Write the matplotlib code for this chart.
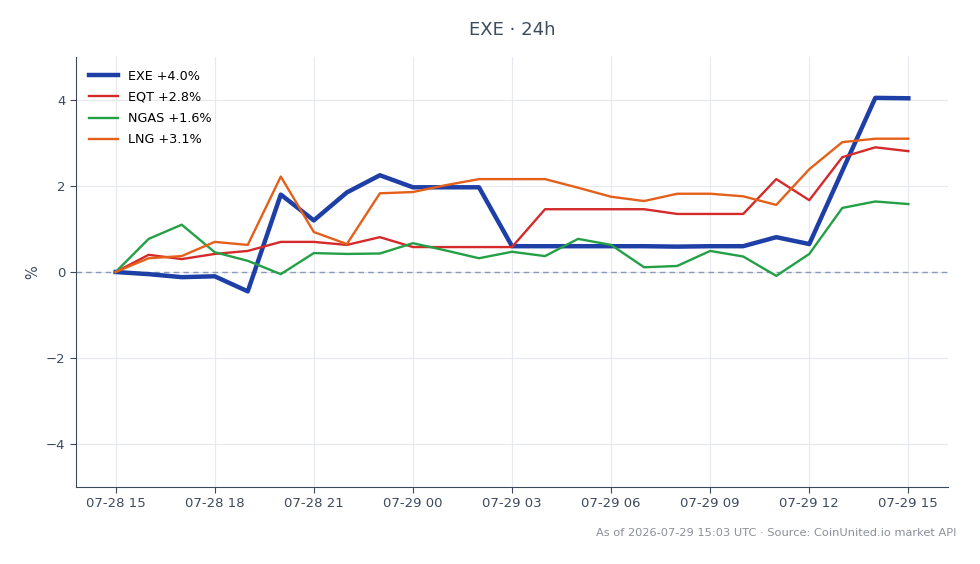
import numpy as np
import pandas as pd
import matplotlib
matplotlib.use("Agg")
import matplotlib.pyplot as plt
import matplotlib.dates as mdates

times = pd.date_range("2026-07-28 15:00", "2026-07-29 15:00", freq="h")

exe = [0.0, -0.05, -0.12, -0.1, -0.45, 1.8, 1.2, 1.85, 2.25, 1.97, 1.97, 1.97, 0.6,
       0.6, 0.6, 0.6, 0.6, 0.59, 0.6, 0.6, 0.81, 0.65, 2.35, 4.05, 4.04]
eqt = [0.0, 0.4, 0.3, 0.42, 0.49, 0.7, 0.7, 0.63, 0.81, 0.58, 0.58, 0.58, 0.58,
       1.46, 1.46, 1.46, 1.46, 1.35, 1.35, 1.35, 2.16, 1.67, 2.67, 2.9, 2.81]
ngas = [0.0, 0.77, 1.1, 0.46, 0.26, -0.05, 0.44, 0.42, 0.43, 0.67, 0.5, 0.32, 0.47,
        0.37, 0.77, 0.63, 0.11, 0.14, 0.49, 0.36, -0.09, 0.42, 1.49, 1.64, 1.58]
lng = [0.0, 0.32, 0.37, 0.7, 0.63, 2.22, 0.93, 0.65, 1.83, 1.86, 2.02, 2.16, 2.16,
       2.16, 1.96, 1.75, 1.65, 1.82, 1.82, 1.76, 1.56, 2.39, 3.02, 3.1, 3.1]

labels = ["EXE +4.0%", "EQT +2.8%", "NGAS +1.6%", "LNG +3.1%"]
colors = ["#1e3fa6", "#d42a2a", "#23a046", "#e4601a"]
widths = [3.2, 1.7, 1.7, 1.7]

text_col = "#3d4a5c"

fig = plt.figure(figsize=(9.8, 5.64), dpi=100)
ax = fig.add_axes([76/980, 1 - 487/564, 872/980, 430/564])

for ys, lab, c, w in zip([exe, eqt, ngas, lng], labels, colors, widths):
    ax.plot(times, ys, color=c, lw=w, label=lab, zorder=3)

ax.axhline(0, color="#8a9ab5", lw=1, ls=(0, (4, 3)), zorder=2)

ax.set_ylim(-5, 5)
ax.set_yticks([-4, -2, 0, 2, 4])
ax.set_ylabel("%", color=text_col, fontsize=10.5)
ax.xaxis.set_major_locator(mdates.HourLocator(byhour=range(0, 24, 3)))
ax.xaxis.set_major_formatter(mdates.DateFormatter("%m-%d %H"))
ax.margins(x=0.05)

ax.grid(True, color="#e6e9ee", lw=0.8, zorder=0)
for s in ["top", "right"]:
    ax.spines[s].set_visible(False)
for s in ["left", "bottom"]:
    ax.spines[s].set_color("#3d4a5c")
ax.tick_params(colors="#3d4a5c", labelcolor=text_col, labelsize=9.5, length=4)

ax.set_title("EXE · 24h", color=text_col, fontsize=13, pad=16)
leg = ax.legend(loc="upper left", frameon=False, fontsize=9.2, handlelength=2.3,
                borderaxespad=0.6, labelspacing=0.64)

fig.text(0.976, 0.055, "As of 2026-07-29 15:03 UTC · Source: CoinUnited.io market API",
         ha="right", va="center", fontsize=8.2, color="#8a8f98")

fig.savefig("out.png", dpi=100)
